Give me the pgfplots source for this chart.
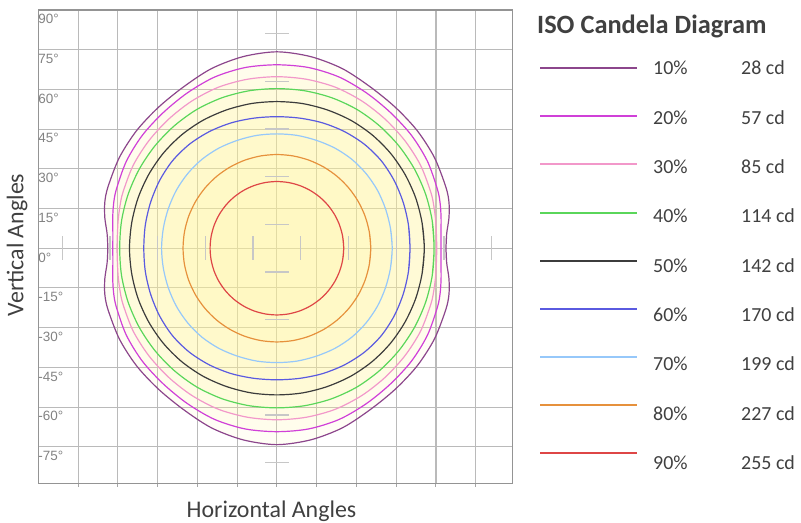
\documentclass[border=0pt]{standalone}
\usepackage{fontspec}
\setmainfont{Carlito}
\newfontfamily\arialfont{Liberation Sans}
\usepackage{pgfplots}
\pgfplotsset{compat=1.18}
\definecolor{c10}{RGB}{140,70,140}
\definecolor{c20}{RGB}{208,64,216}
\definecolor{c30}{RGB}{242,152,202}
\definecolor{c40}{RGB}{90,214,90}
\definecolor{c50}{RGB}{60,60,60}
\definecolor{c60}{RGB}{90,90,224}
\definecolor{c70}{RGB}{150,200,250}
\definecolor{c80}{RGB}{230,145,60}
\definecolor{c90}{RGB}{222,70,70}
\definecolor{fillc}{RGB}{255,244,156}
\definecolor{txt}{RGB}{64,64,64}
\definecolor{tickc}{RGB}{130,130,130}
\begin{document}
\begin{tikzpicture}
\path[use as bounding box] (-38.3bp,-39.7bp) rectangle (762.7bp,483.3bp);
\begin{axis}[
  at={(0,0)}, anchor=south west,
  scale only axis, width=474bp, height=473.3bp,
  xmin=-90, xmax=88.8, ymin=-88.8, ymax=90,
  xtick={-75,-60,...,75}, xticklabels={},
  ytick={-75,-60,...,90},
  yticklabels={-75°,-60°,-45°,-30°,-15°,0°,15°,30°,45°,60°,75°,90°},
  yticklabel style={font=\arialfont\fontsize{13.5}{15}\selectfont, text=tickc, anchor=north west, inner sep=0pt, xshift=3.4bp, yshift=-4.2bp},
  grid=major, grid style={black!27, line width=1.1bp},
  axis line style={black!42, line width=1.4bp},
  tick align=outside, xtick pos=left, ytick style={draw=none},
  xtick style={black!35, line width=1bp}, major tick length=3.5bp,
  xlabel={Horizontal Angles}, ylabel={Vertical Angles},
  xlabel style={at={(axis description cs:0.492,-0.0592)}, anchor=center, font=\fontsize{24}{28}\selectfont, text=txt},
  ylabel style={at={(axis description cs:-0.0449,0.5035)}, anchor=center, font=\fontsize{24}{28}\selectfont, text=txt},
]
% crosshair dashes
\addplot[only marks, mark=|, mark size=12bp, black!22, line width=1.3bp, mark options={line width=1.3bp}] coordinates {(-81,0) (-63,0) (-45,0) (-27,0) (-9,0) (9,0) (27,0) (45,0) (63,0) (81,0)};
\addplot[only marks, mark=-, mark size=12bp, black!22, line width=1.3bp, mark options={line width=1.3bp}] coordinates {(0,-81) (0,-63) (0,-45) (0,-27) (0,-9) (0,9) (0,27) (0,45) (0,63) (0,81)};
% 10%
\addplot[smooth, data cs=polar, draw=c10, line width=1.2bp, fill=fillc, fill opacity=0.1] coordinates {
(-5,64.3) (0,63.8) (5,64.3) (10,65.9) (15,67.2) (20,67.8) (30,68.6) (40,69.1) (50,69.5) (60,70.4) (70,72.2) (80,73.5) (90,74.2)
(100,73.5) (110,72.2) (120,70.4) (130,69.5) (140,69.1) (150,68.6) (160,67.8) (165,67.2) (170,65.9) (175,64.3) (180,63.8)
(185,64.3) (190,65.9) (195,67.2) (200,67.8) (210,68.6) (220,69.1) (230,69.5) (240,70.4) (250,72.2) (260,73.5) (270,74.2)
(280,73.5) (290,72.2) (300,70.4) (310,69.5) (320,69.1) (330,68.6) (340,67.8) (345,67.2) (350,65.9) (355,64.3) (360,63.8) (365,64.3)};
% 20%
\addplot[smooth, data cs=polar, draw=c20, line width=1.2bp, fill=fillc, fill opacity=0.1] coordinates {
(-5,62.1) (0,61.9) (5,62.1) (10,62.9) (15,63.8) (20,64.5) (30,65.6) (40,66.3) (50,66.8) (60,67.7) (70,68.8) (80,69.3) (90,69.3)
(100,69.3) (110,68.8) (120,67.7) (130,66.8) (140,66.3) (150,65.6) (160,64.5) (165,63.8) (170,62.9) (175,62.1) (180,61.9)
(185,62.1) (190,62.9) (195,63.8) (200,64.5) (210,65.6) (220,66.3) (230,66.8) (240,67.7) (250,68.8) (260,69.3) (270,69.3)
(280,69.3) (290,68.8) (300,67.7) (310,66.8) (320,66.3) (330,65.6) (340,64.5) (345,63.8) (350,62.9) (355,62.1) (360,61.9) (365,62.1)};
% 30%
\addplot[smooth, data cs=polar, draw=c30, line width=1.2bp, fill=fillc, fill opacity=0.1] coordinates {
(-5,60.4) (0,60.3) (5,60.4) (10,60.8) (15,61.3) (20,61.8) (30,62.6) (40,63.1) (50,63.6) (60,64.2) (70,64.7) (80,64.8) (90,64.8)
(100,64.8) (110,64.7) (120,64.2) (130,63.6) (140,63.1) (150,62.6) (160,61.8) (165,61.3) (170,60.8) (175,60.4) (180,60.3)
(185,60.4) (190,60.8) (195,61.3) (200,61.8) (210,62.6) (220,63.1) (230,63.6) (240,64.2) (250,64.7) (260,64.8) (270,64.8)
(280,64.8) (290,64.7) (300,64.2) (310,63.6) (320,63.1) (330,62.6) (340,61.8) (345,61.3) (350,60.8) (355,60.4) (360,60.3) (365,60.4)};
% 40%
\addplot[smooth, data cs=polar, draw=c40, line width=1.2bp, fill=fillc, fill opacity=0.1] coordinates {
(-10,59.5) (0,59.3) (10,59.5) (20,59.7) (30,59.9) (40,60.1) (50,60.3) (60,60.5) (70,60.5) (80,60.4) (90,60.3)
(100,60.4) (110,60.5) (120,60.5) (130,60.3) (140,60.1) (150,59.9) (160,59.7) (170,59.5) (180,59.3)
(190,59.5) (200,59.7) (210,59.9) (220,60.1) (230,60.3) (240,60.5) (250,60.5) (260,60.4) (270,60.3)
(280,60.4) (290,60.5) (300,60.5) (310,60.3) (320,60.1) (330,59.9) (340,59.7) (350,59.5) (360,59.3) (370,59.5)};
% 50%
\addplot[smooth, data cs=polar, draw=c50, line width=1.2bp, fill=fillc, fill opacity=0.1] coordinates {
(-10,55.6) (0,55.6) (10,55.6) (20,55.7) (30,55.8) (40,55.9) (50,55.9) (60,55.8) (70,55.6) (80,55.5) (90,55.4)
(100,55.5) (110,55.6) (120,55.8) (130,55.9) (140,55.9) (150,55.8) (160,55.7) (170,55.6) (180,55.6)
(190,55.6) (200,55.7) (210,55.8) (220,55.9) (230,55.9) (240,55.8) (250,55.6) (260,55.5) (270,55.4)
(280,55.5) (290,55.6) (300,55.8) (310,55.9) (320,55.9) (330,55.8) (340,55.7) (350,55.6) (360,55.6) (370,55.6)};
% 60%
\addplot[smooth, data cs=polar, draw=c60, line width=1.2bp, fill=fillc, fill opacity=0.1] coordinates {
(-10,50.4) (0,50.2) (10,50.4) (20,50.7) (30,51.1) (40,51.4) (50,51.3) (60,50.9) (70,50.4) (80,49.9) (90,49.7)
(100,49.9) (110,50.4) (120,50.9) (130,51.3) (140,51.4) (150,51.1) (160,50.7) (170,50.4) (180,50.2)
(190,50.4) (200,50.7) (210,51.1) (220,51.4) (230,51.3) (240,50.9) (250,50.4) (260,49.9) (270,49.7)
(280,49.9) (290,50.4) (300,50.9) (310,51.3) (320,51.4) (330,51.1) (340,50.7) (350,50.4) (360,50.2) (370,50.4)};
% 70%
\addplot[smooth, data cs=polar, draw=c70, line width=1.2bp, fill=fillc, fill opacity=0.1] coordinates {
(-10,43.5) (0,43.5) (10,43.5) (20,43.6) (30,43.8) (40,43.9) (50,43.9) (60,43.7) (70,43.4) (80,43.3) (90,43.2)
(100,43.3) (110,43.4) (120,43.7) (130,43.9) (140,43.9) (150,43.8) (160,43.6) (170,43.5) (180,43.5)
(190,43.5) (200,43.6) (210,43.8) (220,43.9) (230,43.9) (240,43.7) (250,43.4) (260,43.3) (270,43.2)
(280,43.3) (290,43.4) (300,43.7) (310,43.9) (320,43.9) (330,43.8) (340,43.6) (350,43.5) (360,43.5) (370,43.5)};
% 80%
\addplot[smooth, data cs=polar, draw=c80, line width=1.2bp, fill=fillc, fill opacity=0.1] coordinates {
(-10,35.4) (0,35.4) (10,35.4) (20,35.4) (30,35.4) (40,35.4) (50,35.4) (60,35.4) (70,35.4) (80,35.4) (90,35.4)
(100,35.4) (110,35.4) (120,35.4) (130,35.4) (140,35.4) (150,35.4) (160,35.4) (170,35.4) (180,35.4)
(190,35.4) (200,35.4) (210,35.4) (220,35.4) (230,35.4) (240,35.4) (250,35.4) (260,35.4) (270,35.4)
(280,35.4) (290,35.4) (300,35.4) (310,35.4) (320,35.4) (330,35.4) (340,35.4) (350,35.4) (360,35.4) (370,35.4)};
% 90%
\addplot[smooth, data cs=polar, draw=c90, line width=1.2bp, fill=fillc, fill opacity=0.1] coordinates {
(-10,25.2) (0,25.2) (10,25.2) (20,25.2) (30,25.2) (40,25.2) (50,25.2) (60,25.2) (70,25.2) (80,25.2) (90,25.2)
(100,25.2) (110,25.2) (120,25.2) (130,25.2) (140,25.2) (150,25.2) (160,25.2) (170,25.2) (180,25.2)
(190,25.2) (200,25.2) (210,25.2) (220,25.2) (230,25.2) (240,25.2) (250,25.2) (260,25.2) (270,25.2)
(280,25.2) (290,25.2) (300,25.2) (310,25.2) (320,25.2) (330,25.2) (340,25.2) (350,25.2) (360,25.2) (370,25.2)};
\end{axis}
% legend
\node[anchor=base west, inner sep=0pt, font=\bfseries\fontsize{26.5}{30}\selectfont, text=txt] at (498.7bp,450bp) {ISO Candela Diagram};
\foreach \c/\p/\cd [count=\i from 0] in {c10/10/28, c20/20/57, c30/30/85, c40/40/114, c50/50/142, c60/60/170, c70/70/199, c80/80/227, c90/90/255} {
  \draw[\c, line width=2bp] (501.7bp,{415bp-48.1bp*\i}) -- (599bp,{415bp-48.1bp*\i});
  \node[anchor=base west, inner sep=0pt, font=\fontsize{20}{24}\selectfont, text=txt] at (614.7bp,{408.3bp-49.3bp*\i}) {\p\%};
  \node[anchor=base west, inner sep=0pt, font=\fontsize{20}{24}\selectfont, text=txt] at (702.7bp,{408.3bp-49.3bp*\i}) {\cd\ cd};
}
\end{tikzpicture}
\end{document}
